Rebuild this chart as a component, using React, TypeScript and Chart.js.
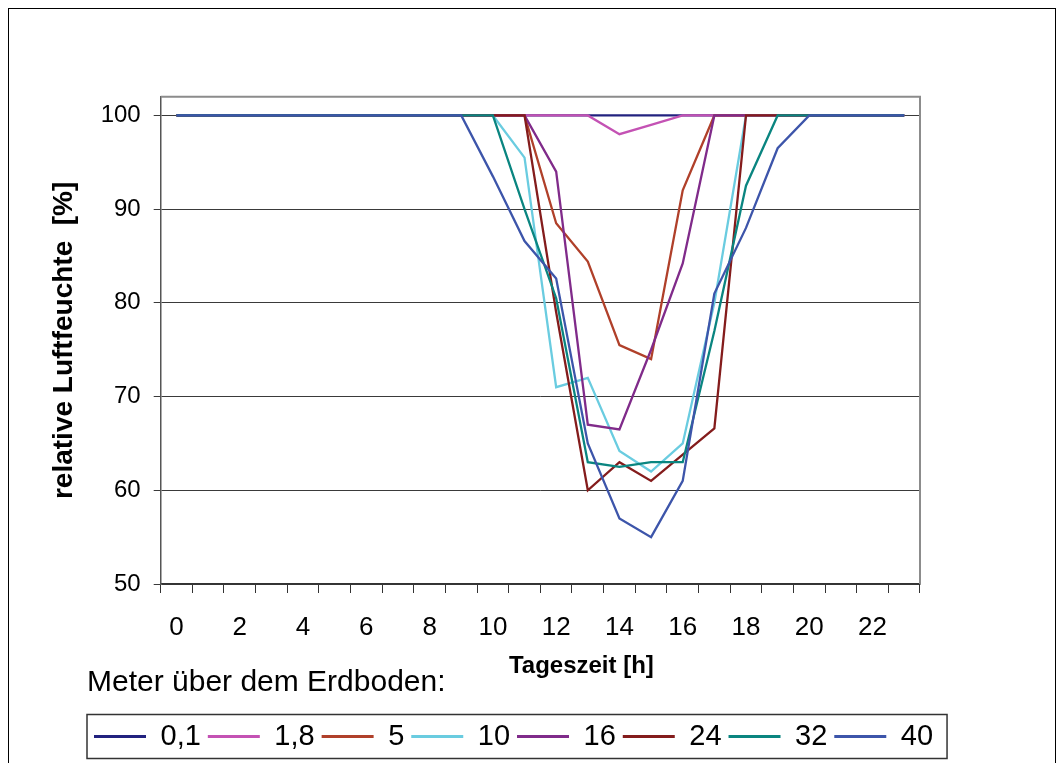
import React, { useEffect, useRef } from 'react';
import { Chart, registerables } from 'chart.js';

Chart.register(...registerables);

const hours = ['0', '1', '2', '3', '4', '5', '6', '7', '8', '9', '10', '11', '12', '13', '14', '15', '16', '17', '18', '19', '20', '21', '22', '23'];
const yTickValues = [50, 60, 70, 80, 90, 100];
const seriesLabels = ['0,1', '1,8', '5', '10', '16', '24', '32', '40'];
const seriesColors = ['#22227F', '#C452B4', '#B0402A', '#6ACCE0', '#802B8A', '#841C1C', '#0A8580', '#3D55AA'];

const h01 = [100, 100, 100, 100, 100, 100, 100, 100, 100, 100, 100, 100, 100, 100, 100, 100, 100, 100, 100, 100, 100, 100, 100, 100];
const h18 = [100, 100, 100, 100, 100, 100, 100, 100, 100, 100, 100, 100, 100, 100, 98, 99, 100, 100, 100, 100, 100, 100, 100, 100];
const h5 = [100, 100, 100, 100, 100, 100, 100, 100, 100, 100, 100, 100, 88.5, 84.4, 75.5, 74, 92, 100, 100, 100, 100, 100, 100, 100];
const h10 = [100, 100, 100, 100, 100, 100, 100, 100, 100, 100, 100, 95.5, 71, 72, 64.2, 62, 65, 80, 100, 100, 100, 100, 100, 100];
const h16 = [100, 100, 100, 100, 100, 100, 100, 100, 100, 100, 100, 100, 94, 67, 66.5, 75, 84.2, 100, 100, 100, 100, 100, 100, 100];
const h24 = [100, 100, 100, 100, 100, 100, 100, 100, 100, 100, 100, 100, 79, 60, 63, 61, 63.8, 66.6, 100, 100, 100, 100, 100, 100];
const h32 = [100, 100, 100, 100, 100, 100, 100, 100, 100, 100, 100, 90, 80.5, 63, 62.5, 63, 63, 77, 92.5, 100, 100, 100, 100, 100];
const h40 = [100, 100, 100, 100, 100, 100, 100, 100, 100, 100, 93.5, 86.6, 82.6, 65, 57, 55, 61, 81, 88, 96.5, 100, 100, 100, 100];

const seriesValues = [h01, h18, h5, h10, h16, h24, h32, h40];

const yTitle = 'relative Luftfeuchte  [%]';
const xTitle = 'Tageszeit [h]';
const legendTitle = 'Meter über dem Erdboden:';

const FONT = '"Liberation Sans", Arial, Helvetica, sans-serif';

export default function App() {
  const canvasRef = useRef<HTMLCanvasElement | null>(null);

  useEffect(() => {
    const canvas = canvasRef.current;
    if (!canvas) return;
    Chart.defaults.font.family = FONT;
    Chart.defaults.color = '#000';

    const plotFrame = {
      id: 'plotFrame',
      beforeDatasetsDraw(chart: any) {
        const { ctx, chartArea } = chart;
        ctx.save();
        ctx.strokeStyle = '#8c8c8c';
        ctx.lineWidth = 2;
        ctx.beginPath();
        ctx.moveTo(chartArea.left, chartArea.top);
        ctx.lineTo(chartArea.right, chartArea.top);
        ctx.lineTo(chartArea.right, chartArea.bottom);
        ctx.stroke();
        ctx.restore();
      },
    };

    const xTitlePlugin = {
      id: 'xTitlePlugin',
      afterDraw(chart: any) {
        const { ctx, chartArea } = chart;
        ctx.save();
        ctx.fillStyle = '#000';
        ctx.font = `bold 24px ${FONT}`;
        ctx.textAlign = 'center';
        ctx.textBaseline = 'middle';
        ctx.fillText(xTitle, (chartArea.left + chartArea.right) / 2 + 41, chartArea.bottom + 82);
        ctx.restore();
      },
    };

    const legendPlace = {
      id: 'legendPlace',
      afterLayout(chart: any) {
        const lg = chart.legend;
        if (!lg) return;
        const w = lg.right - lg.left;
        const h = lg.bottom - lg.top;
        lg.left = 78;
        lg.right = 78 + w;
        lg.top = 659;
        lg.bottom = 659 + h;
      },
      afterDraw(chart: any) {
        const lg = chart.legend;
        if (!lg || !lg.legendHitBoxes || !lg.legendHitBoxes.length) return;
        const hb = lg.legendHitBoxes;
        let l = Infinity;
        let r = -Infinity;
        hb.forEach((b: any) => {
          l = Math.min(l, b.left);
          r = Math.max(r, b.left + b.width);
        });
        const cy = hb[0].top + hb[0].height / 2;
        const { ctx } = chart;
        ctx.save();
        ctx.strokeStyle = '#333';
        ctx.lineWidth = 1.5;
        ctx.strokeRect(l - 7, cy - 22, r - l + 21, 44);
        ctx.restore();
      },
    };

    const n = seriesLabels.length;
    const chart = new Chart(canvas, {
      type: 'line',
      data: {
        labels: hours,
        datasets: seriesLabels.map((lab, i) => ({
          label: lab,
          data: seriesValues[i],
          borderColor: seriesColors[i],
          backgroundColor: seriesColors[i],
          borderWidth: 2.3,
          pointRadius: 0,
          pointHoverRadius: 0,
          tension: 0,
          fill: false,
          order: n - 1 - i,
        })),
      },
      options: {
        responsive: false,
        animation: false,
        devicePixelRatio: 1,
        layout: { padding: { top: 87.7, left: 0, right: 135, bottom: 0 } },
        plugins: {
          tooltip: { enabled: false },
          legend: {
            display: true,
            position: 'bottom',
            align: 'start',
            title: {
              display: true,
              text: legendTitle,
              position: 'start',
              color: '#000',
              font: { size: 30, family: FONT },
              padding: { top: 0, bottom: 11 },
            },
            labels: {
              color: '#000',
              font: { size: 29, family: FONT },
              boxWidth: 52,
              boxHeight: 3,
              padding: 7,
              sort: (a: any, b: any) => a.datasetIndex - b.datasetIndex,
              generateLabels: (ch: any) => {
                const items = (Chart as any).defaults.plugins.legend.labels.generateLabels(ch);
                return items.map((it: any) => ({
                  ...it,
                  lineWidth: 0,
                  fillStyle: ch.data.datasets[it.datasetIndex].borderColor,
                }));
              },
            },
          },
        },
        scales: {
          x: {
            type: 'category',
            offset: true,
            afterFit: (scale: any) => {
              scale.height = 92;
            },
            grid: {
              offset: true,
              drawOnChartArea: false,
              drawTicks: true,
              tickLength: 9,
              color: '#333',
              lineWidth: 1,
            },
            border: { display: true, color: '#333', width: 1.5 },
            ticks: {
              autoSkip: false,
              maxRotation: 0,
              padding: 19,
              color: '#000',
              font: { size: 26, family: FONT },
              callback: function (this: any, value: any, index: number) {
                return index % 2 === 0 ? this.getLabelForValue(value) : '';
              },
            },
            title: { display: false },
          },
          y: {
            type: 'linear',
            min: 50,
            max: 102,
            afterFit: (scale: any) => {
              scale.width = 151.7;
            },
            afterBuildTicks: (scale: any) => {
              scale.ticks = yTickValues.map((v) => ({ value: v }));
            },
            grid: {
              drawOnChartArea: true,
              drawTicks: true,
              tickLength: 7,
              color: '#3a3a3a',
              lineWidth: 1,
            },
            border: { display: true, color: '#555', width: 1.5 },
            ticks: {
              stepSize: 10,
              padding: 13,
              color: '#000',
              font: { size: 24, family: FONT },
            },
            title: {
              display: true,
              text: yTitle,
              color: '#000',
              font: { size: 28, weight: 'bold', family: FONT },
              padding: { top: 38.2, bottom: 0 },
            },
          },
        },
      },
      plugins: [plotFrame, legendPlace, xTitlePlugin],
    } as any);

    return () => {
      chart.destroy();
    };
  }, []);

  return (
    <div
      style={{
        width: 1048,
        height: 766,
        border: '1px solid #000',
        boxSizing: 'border-box',
        background: '#fff',
      }}
    >
      <canvas ref={canvasRef} width={1046} height={760} style={{ display: 'block' }} />
    </div>
  );
}
